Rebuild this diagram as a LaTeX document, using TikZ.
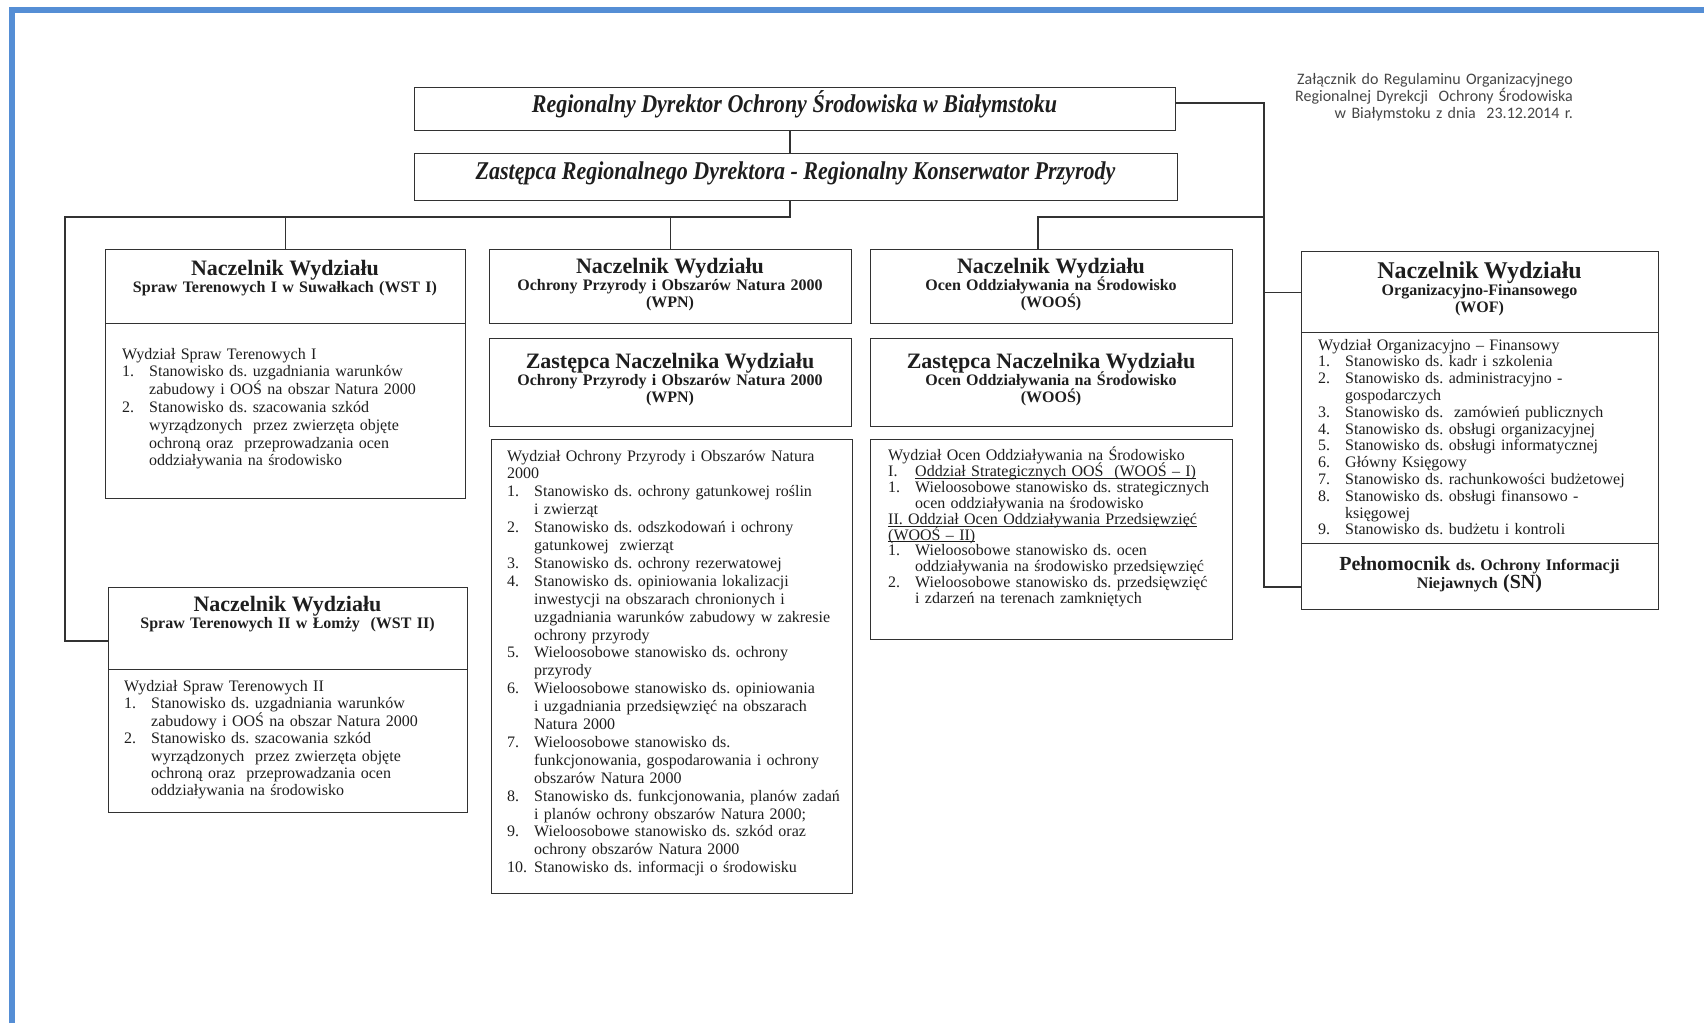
\documentclass[tikz,border=0pt]{standalone}
\usepackage{fontspec}
\setmainfont{Liberation Serif}
\newfontfamily\dirfont[FakeStretch=0.86]{Liberation Serif}
\newfontfamily\notefont{Carlito}
\usetikzlibrary{positioning}
\definecolor{frameblue}{RGB}{85,142,213}
\definecolor{ink}{RGB}{30,30,30}
\definecolor{rule}{RGB}{50,50,50}
\definecolor{noteink}{RGB}{70,70,70}
\newcommand{\numbox}[1]{\makebox[27pt][l]{#1}}
\newcommand{\contbox}{\hspace*{27pt}}
\newcommand{\hdsize}{\fontsize{22}{22}\selectfont}
\newcommand{\fixlead}{\lineskiplimit=-100pt\relax}
\newcommand{\undl}[1]{\leavevmode\setbox0\hbox{#1}\rlap{\rule[-2.2pt]{\wd0}{0.8pt}}\box0}
\normallineskiplimit=-100pt

\begin{document}
\frenchspacing
\begin{tikzpicture}[x=1pt, y=-1pt,
	box/.style = {draw=rule, line width=1.4pt, anchor=north west, inner sep=0pt},
	conn/.style = {draw=rule, line width=1.2pt},
	chief/.style = {anchor=base, inner sep=0pt, text=ink, font=\dirfont\fontsize{25.6}{26}\selectfont\bfseries\itshape},
	head/.style = {anchor=base, inner sep=0pt, align=center, text width=350pt, text=ink, font=\fontsize{16}{16.4}\selectfont\bfseries\fixlead},
	list/.style = {anchor=base west, inner sep=0pt, align=left, text width=345pt, text=ink},
	note/.style = {anchor=base east, inner sep=0pt, align=right, text width=320pt, text=noteink, font=\notefont\fontsize{16}{17}\selectfont\fixlead}]
	\useasboundingbox (0,0) rectangle (1704,1023);
	\draw[frameblue, line width=6pt] (12,1023) -- (12,10) -- (1704,10);

	% top of the chart
	\node[box, minimum width=761pt, minimum height=43pt] (rdos) at (414,87) {};
	\node[box, minimum width=763pt, minimum height=47pt] (zast) at (414,153) {};
	\node[chief] (rdost) at (794.5,112.5) {Regionalny Dyrektor Ochrony Środowiska w Białymstoku};
	\node[chief] (zastt) at (795.5,179.5) {Zastępca Regionalnego Dyrektora - Regionalny Konserwator Przyrody};
	\node[note] (note) at (1573,84.5) {Załącznik do Regulaminu Organizacyjnego\\Regionalnej Dyrekcji\ \ Ochrony Środowiska\\w Białymstoku z dnia\ \ 23.12.2014 r.};

	% boxes
	\node[box, minimum width=360pt, minimum height=74pt] (wst1) at (105,249) {};
	\node[box, minimum width=360pt, minimum height=175pt] (wst1l) at (105,323) {};
	\node[box, minimum width=359pt, minimum height=82pt] (wst2) at (108,587) {};
	\node[box, minimum width=359pt, minimum height=143pt] (wst2l) at (108,669) {};
	\node[box, minimum width=362pt, minimum height=74pt] (wpn) at (489,249) {};
	\node[box, minimum width=362pt, minimum height=88pt] (wpnz) at (489,338) {};
	\node[box, minimum width=361pt, minimum height=454pt] (wpnl) at (491,439) {};
	\node[box, minimum width=362pt, minimum height=74pt] (woos) at (870,249) {};
	\node[box, minimum width=362pt, minimum height=88pt] (woosz) at (870,338) {};
	\node[box, minimum width=362pt, minimum height=200pt] (woosl) at (870,439) {};
	\node[box, minimum width=357pt, minimum height=81pt] (wof) at (1301,251) {};
	\node[box, minimum width=357pt, minimum height=211pt] (wofl) at (1301,332) {};
	\node[box, minimum width=357pt, minimum height=66pt] (sn) at (1301,543) {};

	% headings
	\node[head] (wst1t) at (285,275) {{\hdsize Naczelnik Wydziału}\\[1pt]Spraw Terenowych I w Suwałkach (WST I)};
	\node[head] (wst2t) at (287.5,611.5) {{\hdsize Naczelnik Wydziału}\\[1pt]Spraw Terenowych II w Łomży\ \ (WST II)};
	\node[head] (wpnt) at (670,273.5) {{\hdsize Naczelnik Wydziału}\\[1pt]Ochrony Przyrody i Obszarów Natura 2000\\(WPN)};
	\node[head] (wpnzt) at (670,368.5) {{\hdsize Zastępca Naczelnika Wydziału}\\[1pt]Ochrony Przyrody i Obszarów Natura 2000\\(WPN)};
	\node[head] (woost) at (1051,273.5) {{\hdsize Naczelnik Wydziału}\\[1pt]Ocen Oddziaływania na Środowisko\\(WOOŚ)};
	\node[head] (wooszt) at (1051,368.5) {{\hdsize Zastępca Naczelnika Wydziału}\\[1pt]Ocen Oddziaływania na Środowisko\\(WOOŚ)};
	\node[head] (woft) at (1479.5,278.2) {{\fontsize{24}{24}\selectfont Naczelnik Wydziału}\\[1pt]Organizacyjno-Finansowego\\(WOF)};
	\node[head] (snt) at (1479.5,570.5) {{\fontsize{20}{20}\selectfont Pełnomocnik} ds. Ochrony Informacji\\[2pt]Niejawnych {\fontsize{20}{20}\selectfont (SN)}};

	% lists
	\node[list, font=\fontsize{16}{17.8}\selectfont\fixlead] (wst1x) at (122,359) {Wydział Spraw Terenowych I\\
		\numbox{1.}Stanowisko ds. uzgadniania warunków\\
		\contbox zabudowy i OOŚ na obszar Natura 2000\\
		\numbox{2.}Stanowisko ds. szacowania szkód\\
		\contbox wyrządzonych\ \ przez zwierzęta objęte\\
		\contbox ochroną oraz\ \ przeprowadzania ocen\\
		\contbox oddziaływania na środowisko};
	\node[list, font=\fontsize{16}{17.4}\selectfont\fixlead] (wst2x) at (124,691.5) {Wydział Spraw Terenowych II\\
		\numbox{1.}Stanowisko ds. uzgadniania warunków\\
		\contbox zabudowy i OOŚ na obszar Natura 2000\\
		\numbox{2.}Stanowisko ds. szacowania szkód\\
		\contbox wyrządzonych\ \ przez zwierzęta objęte\\
		\contbox ochroną oraz\ \ przeprowadzania ocen\\
		\contbox oddziaływania na środowisko};
	\node[list, font=\fontsize{16}{17.9}\selectfont\fixlead] (wpnx) at (507,461) {Wydział Ochrony Przyrody i Obszarów Natura\\
		2000\\
		\numbox{1.}Stanowisko ds. ochrony gatunkowej roślin\\
		\contbox i zwierząt\\
		\numbox{2.}Stanowisko ds. odszkodowań i ochrony\\
		\contbox gatunkowej\ \ zwierząt\\
		\numbox{3.}Stanowisko ds. ochrony rezerwatowej\\
		\numbox{4.}Stanowisko ds. opiniowania lokalizacji\\
		\contbox inwestycji na obszarach chronionych i\\
		\contbox uzgadniania warunków zabudowy w zakresie\\
		\contbox ochrony przyrody\\
		\numbox{5.}Wieloosobowe stanowisko ds. ochrony\\
		\contbox przyrody\\
		\numbox{6.}Wieloosobowe stanowisko ds. opiniowania\\
		\contbox i uzgadniania przedsięwzięć na obszarach\\
		\contbox Natura 2000\\
		\numbox{7.}Wieloosobowe stanowisko ds.\\
		\contbox funkcjonowania, gospodarowania i ochrony\\
		\contbox obszarów Natura 2000\\
		\numbox{8.}Stanowisko ds. funkcjonowania, planów zadań\\
		\contbox i planów ochrony obszarów Natura 2000;\\
		\numbox{9.}Wieloosobowe stanowisko ds. szkód oraz\\
		\contbox ochrony obszarów Natura 2000\\
		\numbox{10.}Stanowisko ds. informacji o środowisku};
	\node[list, font=\fontsize{16}{15.9}\selectfont\fixlead] (woosx) at (888,460.5) {Wydział Ocen Oddziaływania na Środowisko\\
		\numbox{I.}\undl{Oddział Strategicznych OOŚ\ \ (WOOŚ – I)}\\
		\numbox{1.}Wieloosobowe stanowisko ds. strategicznych\\
		\contbox ocen oddziaływania na środowisko\\
		\undl{II. Oddział Ocen Oddziaływania Przedsięwzięć}\\
		\undl{(WOOŚ – II)}\\
		\numbox{1.}Wieloosobowe stanowisko ds. ocen\\
		\contbox oddziaływania na środowisko przedsięwzięć\\
		\numbox{2.}Wieloosobowe stanowisko ds. przedsięwzięć\\
		\contbox i zdarzeń na terenach zamkniętych};
	\node[list, font=\fontsize{16}{16.8}\selectfont\fixlead] (wofx) at (1318,350) {Wydział Organizacyjno – Finansowy\\
		\numbox{1.}Stanowisko ds. kadr i szkolenia\\
		\numbox{2.}Stanowisko ds. administracyjno -\\
		\contbox gospodarczych\\
		\numbox{3.}Stanowisko ds.\ \ zamówień publicznych\\
		\numbox{4.}Stanowisko ds. obsługi organizacyjnej\\
		\numbox{5.}Stanowisko ds. obsługi informatycznej\\
		\numbox{6.}Główny Księgowy\\
		\numbox{7.}Stanowisko ds. rachunkowości budżetowej\\
		\numbox{8.}Stanowisko ds. obsługi finansowo -\\
		\contbox księgowej\\
		\numbox{9.}Stanowisko ds. budżetu i kontroli};

	% connectors
	\coordinate (jz) at (790,217);
	\coordinate (jl) at (65,217);
	\coordinate (jl2) at (65,641);
	\coordinate (jr) at (1264,103);
	\coordinate (jr2) at (1264,587);
	\coordinate (jw) at (1038,217);
	\path[conn]
	(rdos.south -| jz) -- (zast.north -| jz)
	(zast.south -| jz) -- (jz) -- (jl) -- (jl2) -- (wst2.west |- jl2)
	(wst1.north) -- (wst1.north |- jz)
	(wpn.north) -- (wpn.north |- jz)
	(rdos.east |- jr) -- (jr) -- (jr2) -- (sn.west |- jr2)
	(wof.west) -- (wof.west -| jr)
	(woos.north -| jw) -- (jw) -- (jw -| jr);
\end{tikzpicture}
\end{document}
